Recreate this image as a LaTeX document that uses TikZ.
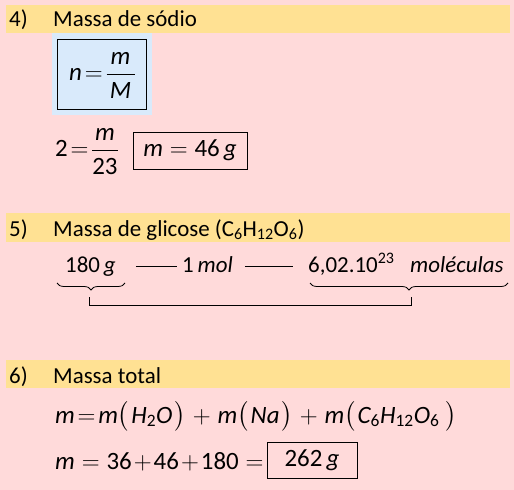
\documentclass[tikz,border=0pt]{standalone}
\usepackage{amsmath}
\usepackage{fontspec}
\setmainfont{Carlito}
\usetikzlibrary{decorations.pathreplacing}
\definecolor{bgpink}{HTML}{FFDADA}
\definecolor{baryellow}{HTML}{FFE193}
\definecolor{boxblue}{HTML}{D9EAFB}
\newcommand{\mv}[1]{\text{\itshape #1}}
\newcommand{\teq}{\mskip2mu{=}\mskip2mu}
\newcommand{\bplus}{\mskip5mu{+}\mskip5mu}
\newcommand{\tplus}{\mskip1.5mu{+}\mskip1.5mu}
\newcommand{\lp}{\bigl(\mskip1.5mu}
\newcommand{\rp}{\mskip1.5mu\bigr)}
\begin{document}
\begin{tikzpicture}[x=1bp,y=-1bp,
  every node/.style={inner sep=0pt, font=\fontsize{23}{27}\selectfont},
  txt/.style={anchor=base west},
  mth/.style={font=\fontsize{25}{30}\selectfont},
  mid/.style={font=\fontsize{23}{28}\selectfont},
  headbar/.style={fill=baryellow},
  resbox/.style={draw, line width=0.9pt},
  brc/.style={decorate, decoration={brace, mirror, amplitude=7bp}, line width=0.8pt},
  dashline/.style={line width=0.8pt},
  bracket/.style={line width=1pt}]
\useasboundingbox (0,0) rectangle (514,490);
\fill[bgpink] (0,0) rectangle (514,490);
% section 4
\fill[headbar] (6,5) rectangle (510,33);
\node[txt] (n4) at (9,27) {4)};
\node[txt] (h4) at (53,27) {Massa de sódio};
\fill[boxblue] (52,33) rectangle (152,115);
\node[draw, line width=0.9pt, minimum width=89bp, minimum height=70bp] (nbox) at (101.5,74) {};
\node[txt, mth] (eqn) at (69,81) {$\mv{n}\teq\dfrac{\,\mv{m}\,}{\mv{M}}$};
\node[txt, mth] (eq4) at (55,157) {$\text{2}\teq\dfrac{\mv{m}}{\text{23}}$};
\node[resbox, mth, minimum width=114bp, minimum height=37bp] (res4) at (190,150.5) {$\mv{m}=\text{46}\,\mv{g}$};
% section 5
\fill[headbar] (6,213) rectangle (510,242);
\node[txt] (n5) at (9,236) {5)};
\node[txt] (h5) at (53,236) {Massa de glicose (C\textsubscript{6}H\textsubscript{12}O\textsubscript{6})};
\node[txt, mid] (g180) at (65,272) {180\,\textit{g}};
\node[txt, mid] (mol) at (182,272) {1\,\textit{mol}};
\node[txt, mid] (avo) at (308,272) {6,02.10\textsuperscript{23}};
\node[txt, mid] (molec) at (410,272) {\textit{moléculas}};
\draw[dashline] (g180.base east) ++(20,-5.5) coordinate (d1a) -- ([xshift=-5bp]mol.base west |- d1a);
\draw[dashline] (mol.base east) ++(12,-5.5) coordinate (d2a) -- ([xshift=-15bp]avo.base west |- d2a);
\coordinate (b1a) at (57,283);
\coordinate (b1b) at (125,283);
\coordinate (b2a) at (310,283);
\coordinate (b2b) at (508,283);
\draw[brc] (b1a) -- (b1b);
\draw[brc] (b2a) -- (b2b);
\coordinate (k1) at (89,297);
\coordinate (k2) at (411,297);
\draw[bracket] (k1) -- ++(0,8) -| (k2);
% section 6
\fill[headbar] (6,360) rectangle (510,388);
\node[txt] (n6) at (9,383) {6)};
\node[txt] (h6) at (53,383) {Massa total};
\node[txt, mth] (eq6a) at (55,423) {$\mv{m}\teq\mv{m}\lp\mv{H}_{\text{2}}\mv{O}\rp\bplus\mv{m}\lp\mv{Na}\rp\bplus\mv{m}\lp\mv{C}_{\text{6}}\mv{H}_{\text{12}}\mv{O}_{\text{6}}\,\rp$};
\node[txt, mth] (eq6b) at (55,469) {$\mv{m}=\text{36}\tplus\text{46}\tplus\text{180}=$};
\node[resbox, mth, minimum width=90bp, minimum height=36bp] (res6) at (312,460) {262\,\textit{g}};
\end{tikzpicture}
\end{document}
